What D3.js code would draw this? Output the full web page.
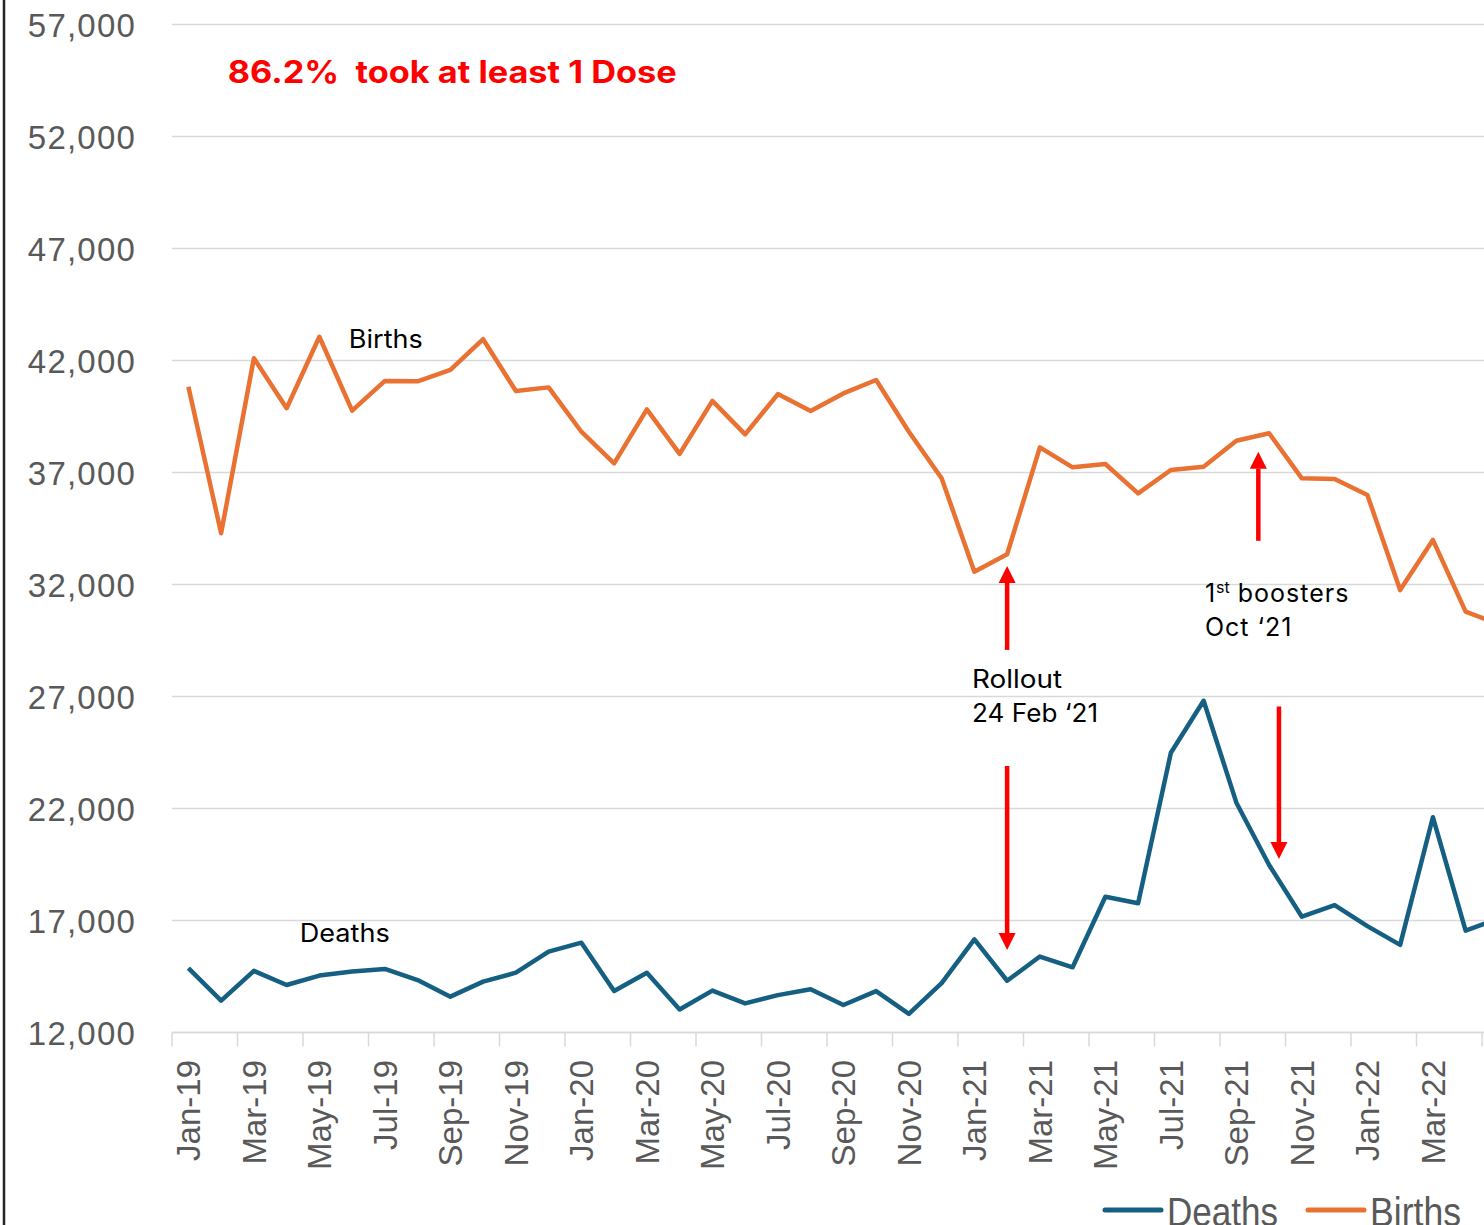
<!DOCTYPE html>
<html>
<head>
<meta charset="utf-8">
<script src="https://cdn.jsdelivr.net/npm/d3@7"></script>
<style>
  body { margin: 0; background: #fff; }
  svg { display: block; }
  .axis text { fill: #595959; font-family: "Liberation Sans", Arial, sans-serif; font-size: 33px; }
  .note { font-family: Inter, "Open Sans", sans-serif; fill: #000; }
</style>
</head>
<body>
<div id="chart"></div>
<script>
// monthly series, Jan-19 .. May-22
var months = ['Jan-19','Feb-19','Mar-19','Apr-19','May-19','Jun-19','Jul-19','Aug-19','Sep-19','Oct-19','Nov-19','Dec-19',
              'Jan-20','Feb-20','Mar-20','Apr-20','May-20','Jun-20','Jul-20','Aug-20','Sep-20','Oct-20','Nov-20','Dec-20',
              'Jan-21','Feb-21','Mar-21','Apr-21','May-21','Jun-21','Jul-21','Aug-21','Sep-21','Oct-21','Nov-21','Dec-21',
              'Jan-22','Feb-22','Mar-22','Apr-22','May-22'];

var births = [40830, 34290, 42100, 39870, 43060, 39760, 41090, 41070, 41580, 42950, 40640, 40800,
              38820, 37410, 39820, 37830, 40200, 38700, 40500, 39750, 40530, 41130, 38820, 36740,
              32570, 33350, 38120, 37230, 37380, 36070, 37110, 37260, 38420, 38750, 36740, 36710,
              36000, 31750, 33990, 30790, 30230];

var deaths = [14870, 13420, 14750, 14120, 14540, 14720, 14840, 14340, 13600, 14270, 14670, 15610,
              16010, 13850, 14670, 13030, 13870, 13300, 13670, 13930, 13230, 13850, 12830, 14200,
              16160, 14310, 15390, 14910, 18060, 17770, 24490, 26810, 22260, 19480, 17170, 17690,
              16750, 15910, 21610, 16550, 17090];

var yTicks = [12000, 17000, 22000, 27000, 32000, 37000, 42000, 47000, 52000, 57000];

var seriesNames = ['Deaths', 'Births'];
var seriesColors = ['#156082', '#E97132'];

// arrows: month index (fractional), from value -> tip value
var arrows = [
  {i: 25,    from: 29080, to: 32830},
  {i: 25,    from: 23900, to: 15680},
  {i: 32.67, from: 33950, to: 37930},
  {i: 33.3,  from: 26550, to: 19750}
];

var width = 1484, height = 1225;
var step = 32.75;
var left = 172;

var svg = d3.select('#chart').append('svg')
    .attr('width', width)
    .attr('height', height);

svg.append('rect').attr('width', width).attr('height', height).attr('fill', '#fff');

var x = d3.scaleBand()
    .domain(months)
    .range([left, left + months.length * step])
    .padding(0);

var y = d3.scaleLinear()
    .domain([12000, 57000])
    .range([1032.5, 24.5]);

function xc(m) { return x(m) + x.bandwidth() / 2; }
function xi(i) { return x(months[0]) + x.bandwidth() / 2 + i * step; }

// gridlines
svg.append('g').selectAll('line')
    .data(yTicks)
    .enter().append('line')
    .attr('x1', left).attr('x2', width)
    .attr('y1', function(d) { return y(d); })
    .attr('y2', function(d) { return y(d); })
    .attr('stroke', '#d9d9d9')
    .attr('stroke-width', 1.5);

// y axis labels
var yAxis = svg.append('g')
    .attr('class', 'axis')
    .attr('transform', 'translate(' + left + ',0)')
    .call(d3.axisLeft(y).tickValues(yTicks).tickFormat(d3.format(',')).tickSize(0).tickPadding(36));
yAxis.select('.domain').remove();
yAxis.selectAll('text').attr('dy', '0.36em').style('letter-spacing', '1.2px');

// x axis (labels every second month, only those inside the picture)
var xAxis = svg.append('g')
    .attr('class', 'axis')
    .attr('transform', 'translate(0,' + y(12000) + ')')
    .call(d3.axisBottom(x)
        .tickValues(months.filter(function(d, i) { return i % 2 === 0 && i < 40; }))
        .tickSize(14)
        .tickSizeOuter(0));
xAxis.select('.domain').attr('stroke', '#d9d9d9').attr('stroke-width', 1.5).attr('d', 'M' + left + ',0H' + width);
xAxis.selectAll('.tick line')
    .attr('x1', -step / 2).attr('x2', -step / 2)
    .attr('stroke', '#d9d9d9').attr('stroke-width', 1.5);
xAxis.selectAll('.tick text')
    .attr('transform', 'rotate(-90)')
    .attr('x', -27.5)
    .attr('y', 0)
    .attr('dy', '0.36em')
    .style('text-anchor', 'end');
// boundary tick at the right edge
xAxis.append('line')
    .attr('x1', xi(39.5)).attr('x2', xi(39.5))
    .attr('y1', 0).attr('y2', 14)
    .attr('stroke', '#d9d9d9').attr('stroke-width', 1.5);

// lines
var line = d3.line()
    .x(function(d, i) { return xc(months[i]); })
    .y(function(d) { return y(d); });

[deaths, births].forEach(function(s, k) {
  svg.append('path')
      .datum(s)
      .attr('fill', 'none')
      .attr('stroke', seriesColors[k])
      .attr('stroke-width', 4.5)
      .attr('stroke-linejoin', 'round')
      .attr('d', line);
});

// arrows
arrows.forEach(function(a) {
  var ax = xi(a.i), y0 = y(a.from), y1 = y(a.to);
  var dir = y1 < y0 ? 1 : -1;   // 1 = pointing up
  var head = 17, hw = 8.5;
  svg.append('line')
      .attr('x1', ax).attr('x2', ax)
      .attr('y1', y0).attr('y2', y1 + dir * head)
      .attr('stroke', '#ff0000')
      .attr('stroke-width', 4.5);
  svg.append('path')
      .attr('d', 'M' + ax + ',' + y1 + 'L' + (ax - hw) + ',' + (y1 + dir * head) + 'L' + (ax + hw) + ',' + (y1 + dir * head) + 'Z')
      .attr('fill', '#ff0000');
});

// left border
svg.append('line')
    .attr('x1', 4).attr('x2', 4).attr('y1', 0).attr('y2', height)
    .attr('stroke', '#262626').attr('stroke-width', 2.5);

// title note
svg.append('text')
    .attr('class', 'note')
    .attr('x', xi(1.2)).attr('y', y(54380))
    .style('fill', '#ff0000')
    .style('font-size', '31px')
    .style('font-weight', 'bold')
    .style('white-space', 'pre')
    .attr('textLength', 449)
    .attr('lengthAdjust', 'spacingAndGlyphs')
    .text('86.2%  took at least 1 Dose');

// series labels
svg.append('text').attr('class', 'note')
    .attr('x', xi(4.9)).attr('y', y(42560))
    .style('font-size', '25px')
    .attr('textLength', 74).attr('lengthAdjust', 'spacingAndGlyphs')
    .text('Births');
svg.append('text').attr('class', 'note')
    .attr('x', xi(3.4)).attr('y', y(16050))
    .style('font-size', '25px')
    .attr('textLength', 90).attr('lengthAdjust', 'spacingAndGlyphs')
    .text('Deaths');

// rollout note
var rl = svg.append('text').attr('class', 'note').style('font-size', '25px');
rl.append('tspan').attr('x', xi(23.93)).attr('y', y(27400)).attr('textLength', 90).attr('lengthAdjust', 'spacingAndGlyphs').text('Rollout');
rl.append('tspan').attr('x', xi(23.93)).attr('y', y(25860)).attr('textLength', 126).attr('lengthAdjust', 'spacingAndGlyphs').text('24 Feb \u201821');

// booster note
var bn = svg.append('text').attr('class', 'note').style('font-size', '25px')
    .style('letter-spacing', '1px')
    .attr('x', xi(31.04)).attr('y', y(31210));
bn.append('tspan').text('1');
bn.append('tspan').attr('dy', -9).style('font-size', '16px').style('letter-spacing', '0px').text('st');
bn.append('tspan').attr('dy', 9).text(' boosters');
svg.append('text').attr('class', 'note').style('font-size', '25px')
    .style('letter-spacing', '1px')
    .attr('x', xi(31.04)).attr('y', y(29680))
    .text('Oct \u201821');

// legend
var legX = [1105, 1308];
var legW = [111, 91];
seriesNames.forEach(function(n, k) {
  svg.append('line')
      .attr('x1', legX[k]).attr('x2', legX[k] + 56)
      .attr('y1', 1210).attr('y2', 1210)
      .attr('stroke', seriesColors[k])
      .attr('stroke-width', 5)
      .attr('stroke-linecap', 'round');
  svg.append('text')
      .attr('x', legX[k] + 62).attr('y', 1226)
      .style('font-family', '"Liberation Sans Narrow", "Liberation Sans", Arial, sans-serif')
      .style('font-size', '40px')
      .style('fill', '#595959')
      .attr('textLength', legW[k]).attr('lengthAdjust', 'spacingAndGlyphs')
      .text(n);
});
</script>
</body>
</html>
